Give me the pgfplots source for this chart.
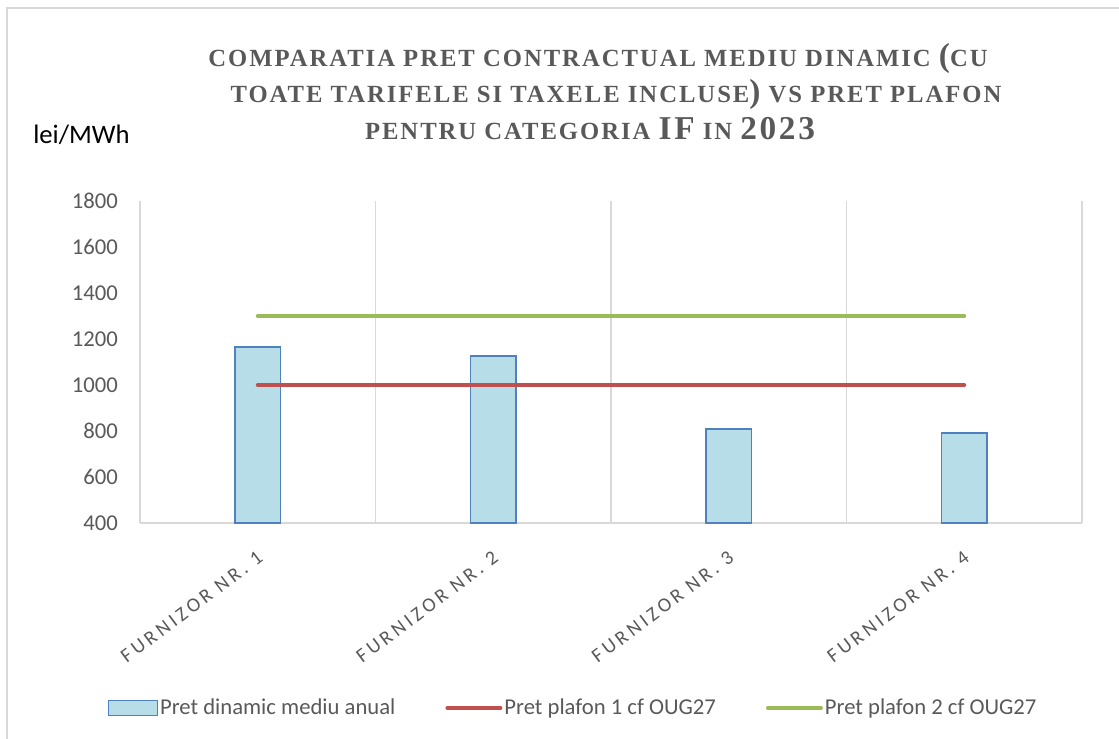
\documentclass[border=0pt]{standalone}
\usepackage{fontspec}
\setmainfont{Carlito}
\newfontfamily\titlefont{Liberation Serif}[LetterSpace=8]
\usepackage{pgfplots}
\pgfplotsset{compat=1.18}
\definecolor{gridgray}{HTML}{D9D9D9}
\definecolor{txtgray}{HTML}{595959}
\definecolor{barfill}{HTML}{B7DDE8}
\definecolor{baredge}{HTML}{4F81BD}
\definecolor{redl}{HTML}{C0504D}
\definecolor{greenl}{HTML}{9BBB59}
\newcommand\sm[1]{{\fontsize{18.5pt}{18.5pt}\selectfont #1}}
\newcommand\bg[1]{{\fontsize{25pt}{25pt}\selectfont #1}}
\begin{document}
\begin{tikzpicture}
\path[use as bounding box] (0pt,0pt) rectangle (839.25pt,-553.5pt);
\draw[gridgray, line width=1.1pt] (5.25pt,-560pt) -- (5.25pt,-6pt) -- (845pt,-6pt);
% title
\begin{scope}[every node/.style={text=txtgray, font=\titlefont\bfseries, inner sep=0pt, anchor=base}]
\node at (448.5pt,-50.25pt) {\sm{COMPARATIA PRET CONTRACTUAL MEDIU DINAMIC }\bg{(}\sm{CU}};
\node at (462pt,-77.25pt) {\sm{TOATE TARIFELE SI TAXELE INCLUSE}\bg{)}\sm{ VS PRET PLAFON}};
\node at (442.5pt,-104.25pt) {\sm{PENTRU CATEGORIA }\bg{IF}\sm{ IN }\bg{2023}};
\end{scope}
\node[anchor=base west, inner sep=0pt, font=\fontsize{20pt}{20pt}\selectfont] at (24.75pt,-107.25pt) {lei/MWh};
\begin{axis}[
  at={(105pt,-392.25pt)}, anchor=south west,
  scale only axis, width=706.5pt, height=241.5pt,
  xmin=-0.5, xmax=3.5, ymin=400, ymax=1800,
  ytick={400,600,...,1800},
  xtick={0,1,2,3},
  xticklabels={FURNIZOR NR. 1,FURNIZOR NR. 2,FURNIZOR NR. 3,FURNIZOR NR. 4},
  extra x ticks={-0.5,0.5,1.5,2.5,3.5},
  extra x tick labels={},
  extra x tick style={grid=major, major tick length=0pt},
  major grid style={gridgray, line width=1.1pt},
  axis y line*=left,
  y axis line style={draw=none},
  axis x line*=bottom,
  x axis line style={gridgray, line width=1.1pt, -},
  major tick length=0pt,
  /pgf/number format/assume math mode=true,
  /pgf/number format/set thousands separator={},
  yticklabel style={font=\fontsize{17pt}{17pt}\selectfont, text=txtgray, inner sep=0pt, xshift=-16.5pt, anchor=east},
  xticklabel style={font=\fontsize{15pt}{15pt}\selectfont\addfontfeature{LetterSpace=18}, text=txtgray, inner sep=0pt, xshift=2pt, yshift=-24pt, rotate=37, anchor=east},
  legend columns=3,
  legend style={at={(0.4597,-0.5745)}, anchor=center, draw=none, fill=none,
    font=\fontsize{17pt}{17pt}\selectfont, text=txtgray,
    /tikz/every even column/.append style={column sep=36pt},
    nodes={inner sep=1.5pt}},
  legend cell align=left,
  clip=false,
]
\addplot[ybar, bar width=34pt, fill=barfill, draw=baredge, line width=1.1pt,
  legend image code/.code={\draw[fill=barfill, draw=baredge, line width=1.1pt] (0pt,-5.6pt) rectangle (36.75pt,5.6pt);}]
  coordinates {(0,1165) (1,1127) (2,808) (3,792)};
\addlegendentry{Pret dinamic mediu anual}
\addplot[redl, line width=3pt, line cap=round,
  legend image code/.code={\draw[redl, line width=3pt, line cap=round] (0pt,0pt) -- (39.75pt,0pt);}]
  coordinates {(0,1000) (1,1000) (2,1000) (3,1000)};
\addlegendentry{Pret plafon 1 cf OUG27}
\addplot[greenl, line width=3pt, line cap=round,
  legend image code/.code={\draw[greenl, line width=3pt, line cap=round] (0pt,0pt) -- (39.75pt,0pt);}]
  coordinates {(0,1300) (1,1300) (2,1300) (3,1300)};
\addlegendentry{Pret plafon 2 cf OUG27}
\end{axis}
\end{tikzpicture}
\end{document}
